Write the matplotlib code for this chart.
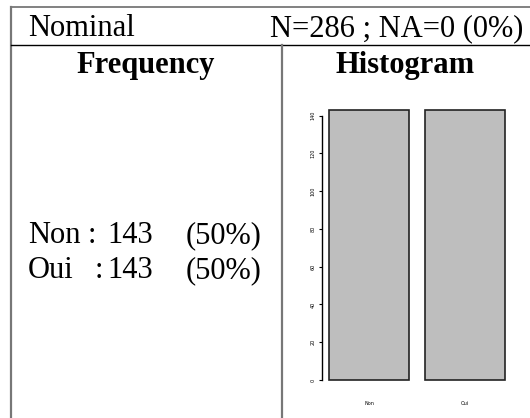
import matplotlib
matplotlib.use('Agg')
import matplotlib.pyplot as plt

# data
categories = ['Non', 'Oui']
counts = [143, 143]
percents = ['50%', '50%']
n_total = 286
n_na = 0
yticks = [0, 20, 40, 60, 80, 100, 120, 140]

W, H = 530, 418
fig = plt.figure(figsize=(W / 100, H / 100), dpi=100)
plt.rcParams['font.family'] = ['Liberation Serif', 'DejaVu Serif']

# table frame, pixel coords
bg = fig.add_axes([0, 0, 1, 1])
bg.set_xlim(0, W)
bg.set_ylim(H, 0)
bg.axis('off')
grey = '#777777'
bg.plot([11, W], [7, 7], color=grey, lw=1.3)
bg.plot([11, 11], [7, H], color=grey, lw=1.6)
bg.plot([11, W], [45, 45], color='black', lw=1.0)
bg.plot([282, 282], [45, H], color=grey, lw=1.6)

fs = 22
bg.text(28, 36, 'Nominal', fontsize=fs, ha='left', va='baseline')
bg.text(523, 36, 'N=%d ; NA=%d (0%%)' % (n_total, n_na), fontsize=fs,
        ha='right', va='baseline')
bg.text(146, 73, 'Frequency', fontsize=fs, fontweight='bold', ha='center', va='baseline')
bg.text(405, 73, 'Histogram', fontsize=fs, fontweight='bold', ha='center', va='baseline')

colon_x = [88, 95]
for i, (c, n, p) in enumerate(zip(categories, counts, percents)):
    y = 243 + i * 35
    bg.text(28, y, c, fontsize=fs, ha='left', va='baseline')
    bg.text(colon_x[i], y, ':', fontsize=fs, ha='left', va='baseline')
    bg.text(153, y, str(n), fontsize=fs, ha='right', va='baseline')
    bg.text(186, y, '(%s)' % p, fontsize=fs, ha='left', va='baseline')

# histogram axes: x 304..512 px, y 99.2..390.8 px
x0, x1 = 304, 512
y0, y1 = 99.2, 390.8
ax = fig.add_axes([x0 / W, 1 - y1 / H, (x1 - x0) / W, (y1 - y0) / H])
ax.set_xlim(-0.112, 2.488)
ax.set_ylim(-5.72, 148.72)
pos = [0.7, 1.9]
ax.bar(pos, counts, width=1.0, color='#bebebe', edgecolor='#222222', linewidth=1.2)
for s in ['top', 'right', 'bottom']:
    ax.spines[s].set_visible(False)
ax.spines['left'].set_position(('data', 0.109))
ax.spines['left'].set_bounds(0, 140)
ax.spines['left'].set_linewidth(1.0)
ax.set_yticks(yticks)
ax.set_yticklabels([str(t) for t in yticks], rotation=90, va='center', fontsize=3.5,
                   family='DejaVu Sans')
ax.tick_params(axis='y', length=2.5, width=0.8, pad=2)
ax.set_xticks(pos)
ax.set_xticklabels(categories, fontsize=3.5, family='DejaVu Sans')
ax.tick_params(axis='x', length=0, pad=7)
ax.patch.set_visible(False)

fig.savefig('out.png', dpi=100)
